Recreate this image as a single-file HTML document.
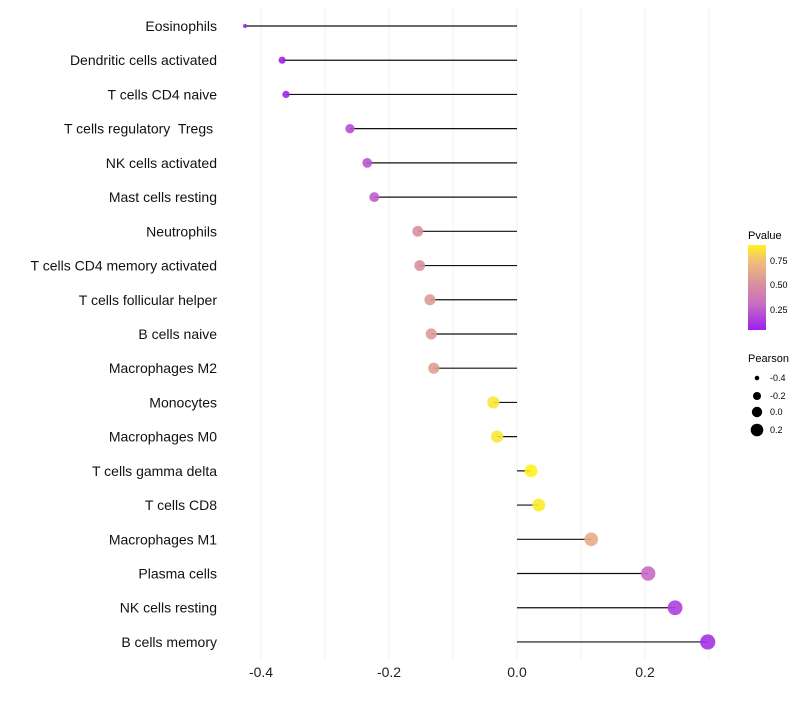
<!DOCTYPE html>
<html><head><meta charset="utf-8"><style>
body{margin:0;background:#fff;font-family:"Liberation Sans",sans-serif}
text{white-space:pre}
</style></head><body>
<svg id="chart" width="800" height="700" xmlns="http://www.w3.org/2000/svg">
<defs><linearGradient id="pg" x1="0" y1="1" x2="0" y2="0">
<stop offset="0" stop-color="#9b1ff0"/><stop offset="0.3" stop-color="#c86cc4"/><stop offset="0.54" stop-color="#d9909c"/><stop offset="0.82" stop-color="#f1c078"/><stop offset="1" stop-color="#fff21e"/></linearGradient></defs>
<g id="grid"></g><g id="marks"></g><g id="labels"></g>
<g>
<text x="748" y="239" font-size="11">Pvalue</text>
<rect x="748" y="245" width="18" height="85" fill="url(#pg)"/>
<text x="770" y="264" font-size="9">0.75</text><text x="770" y="288" font-size="9">0.50</text><text x="770" y="313" font-size="9">0.25</text>
</g>
<g>
<text x="748" y="362" font-size="11">Pearson</text>
<circle cx="757" cy="378" r="2.3"/><text x="770" y="381" font-size="9">-0.4</text>
<circle cx="757" cy="396" r="4"/><text x="770" y="399" font-size="9">-0.2</text>
<circle cx="757" cy="412" r="5.2"/><text x="770" y="415" font-size="9">0.0</text>
<circle cx="757" cy="430" r="6.3"/><text x="770" y="433" font-size="9">0.2</text>
</g>
</svg>
<script>
const cells=["Eosinophils","Dendritic cells activated","T cells CD4 naive","T cells regulatory  Tregs ","NK cells activated","Mast cells resting","Neutrophils","T cells CD4 memory activated","T cells follicular helper","B cells naive","Macrophages M2","Monocytes","Macrophages M0","T cells gamma delta","T cells CD8","Macrophages M1","Plasma cells","NK cells resting","B cells memory"];
const pearson=[-0.425,-0.367,-0.361,-0.261,-0.234,-0.223,-0.155,-0.152,-0.136,-0.134,-0.130,-0.037,-0.031,0.022,0.034,0.116,0.205,0.247,0.298];
const pvals=[0.04,0.05,0.06,0.2,0.22,0.25,0.5,0.5,0.55,0.55,0.58,0.86,0.86,0.9,0.88,0.65,0.3,0.15,0.1];
const xTicks=[-0.4,-0.2,0.0,0.2];
const xTickLabels=["-0.4","-0.2","0.0","0.2"];
const NS="http://www.w3.org/2000/svg";
const X=v=>517+v*640, Y=i=>26+i*34.22;
const R=v=>2+5.6*Math.sqrt(Math.max(0,(v+0.425)/0.723));
const stops=[[0.036,[155,31,240]],[0.3,[200,108,196]],[0.5,[217,144,156]],[0.75,[241,192,120]],[0.9,[255,242,30]]];
function col(p){if(p<=stops[0][0])return stops[0][1];for(let i=1;i<stops.length;i++){if(p<=stops[i][0]){const a=stops[i-1],b=stops[i],t=(p-a[0])/(b[0]-a[0]);return a[1].map((c,k)=>Math.round(c+(b[1][k]-c)*t));}}return stops[stops.length-1][1];}
function mk(t,a,parent){const e=document.createElementNS(NS,t);for(const k in a)e.setAttribute(k,a[k]);document.getElementById(parent).appendChild(e);return e;}
for(let v=-0.4;v<=0.31;v+=0.1){const g=mk('line',{x1:X(v),x2:X(v),y1:8,y2:660,stroke:'#f0f0f0','stroke-width':1},'grid');

}
xTicks.forEach((v,i)=>{const t=mk('text',{x:X(v),y:677,'font-size':14,'text-anchor':'middle',fill:'#222'},'labels');t.textContent=xTickLabels[i];

});
cells.forEach((c,i)=>{const y=Y(i);
const l=mk('line',{x1:X(0),x2:X(pearson[i]),y1:y,y2:y,stroke:'#111','stroke-width':1.2},'marks');


const cc=col(pvals[i]);
const d=mk('circle',{cx:X(pearson[i]),cy:y,r:R(pearson[i]),fill:`rgb(${cc.join(',')})`,'fill-opacity':0.9},'marks');


const t=mk('text',{x:217,y:y+5,'font-size':14,'text-anchor':'end',fill:'#111'},'labels');t.textContent=c;

});
</script>
</body></html>
